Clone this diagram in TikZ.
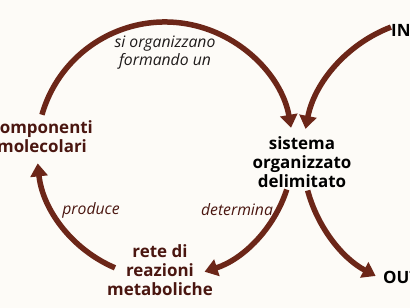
\documentclass[tikz,border=0pt]{standalone}
\usepackage{fontspec}
\setmainfont{Open Sans}
\usetikzlibrary{arrows.meta}
\definecolor{cyc}{RGB}{108,38,24}
\definecolor{term}{RGB}{74,22,16}
\definecolor{ink}{RGB}{30,26,26}
\definecolor{paper}{RGB}{253,251,247}
\tikzset{
  larrow/.style={cyc,line width=5.5bp,-{Triangle[length=13bp,width=17bp]}},
  lterm/.style={font=\bfseries\fontsize{17}{19}\selectfont,align=center,inner sep=0pt},
  lverb/.style={font=\itshape\fontsize{15.8}{18}\selectfont,align=center,inner sep=0pt},
}

\begin{document}
\begin{tikzpicture}[x=1bp,y=1bp]
  \fill[paper] (0,0) rectangle (410,308);
  \clip (0,0) rectangle (410,308);
  % centres of the two loops
  \coordinate (lc) at (165,158);
  \coordinate (rc) at (440,153);
  % terms
  \node[lterm,term] (comp) at (42,171) {componenti\\molecolari};
  \node[lterm,black] (sist) at (302,146) {sistema\\organizzato\\delimitato};
  \node[lterm,term] (rete) at (160,38) {rete di\\reazioni\\metaboliche};
  \node[lterm,black,anchor=west] (in) at (391,278) {IN};
  \node[lterm,black,anchor=west] (out) at (383,31) {OUT};
  % verbs
  \node[lverb,ink] (org) at (165,255) {si organizzano\\formando un};
  \node[lverb,term] (prod) at (91,98) {produce};
  \node[lverb,term] (det) at (237,98) {determina};
  % ends of the arcs
  \coordinate (a1) at ([shift={(164:128)}]lc);
  \coordinate (b1) at ([shift={(-18:128)}]lc);
  \coordinate (c1) at ([shift={(247:128)}]lc);
  \coordinate (i1) at ([shift={(111:137)}]rc);
  \coordinate (o1) at ([shift={(195:137)}]rc);
  \draw[larrow] (a1) arc[start angle=164,end angle=10,radius=128];
  \draw[larrow] (b1) arc[start angle=-18,end angle=-72,radius=128];
  \draw[larrow] (c1) arc[start angle=247,end angle=186,radius=128];
  \draw[larrow] (i1) arc[start angle=111,end angle=169,radius=137];
  \draw[larrow] (o1) arc[start angle=195,end angle=242,radius=137];
\end{tikzpicture}
\end{document}
